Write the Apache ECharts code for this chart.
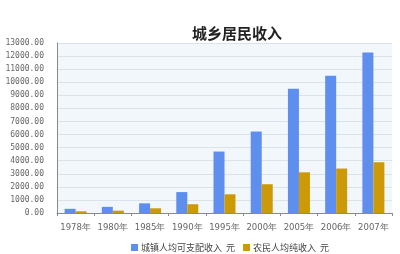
<!DOCTYPE html>
<html>
<head>
<meta charset="utf-8">
<script src="https://cdn.jsdelivr.net/npm/echarts@6/dist/echarts.min.js"></script>
<style>
  html, body { margin: 0; padding: 0; background: #fff; }
  #chart { width: 400px; height: 254px; }
</style>
</head>
<body>
<div id="chart"></div>
<script>
// 城乡居民收入 柱状图
var years = ["1978年", "1980年", "1985年", "1990年", "1995年", "2000年", "2005年", "2006年", "2007年"];
var cityIncome = [320, 470, 740, 1600, 4700, 6230, 9500, 10500, 12280];
var ruralIncome = [130, 180, 360, 670, 1430, 2200, 3110, 3400, 3880];
var seriesNames = ["城镇人均可支配收入  元", "农民人均纯收入  元"];

var myChart = echarts.init(document.getElementById("chart"));
myChart.setOption({
  animation: false,
  title: {
    text: "城乡居民收入",
    left: 232,
    top: 21,
    textAlign: "center",
    textStyle: {
      fontFamily: "Noto Sans CJK SC",
      fontSize: 15,
      fontWeight: "bold",
      color: "#222"
    }
  },
  legend: {
    data: seriesNames,
    left: 126,
    top: 238,
    itemWidth: 7,
    itemHeight: 7,
    itemGap: 8,
    icon: "rect",
    textStyle: {
      fontFamily: "Noto Sans CJK SC",
      fontSize: 9,
      color: "#444",
      padding: [0, 0, 0, -2]
    }
  },
  grid: {
    left: 57,
    right: 8,
    top: 43,
    bottom: 41,
    show: true,
    backgroundColor: "#f2f7fb",
    borderWidth: 0
  },
  xAxis: {
    type: "category",
    data: years,
    axisLine: { show: true, lineStyle: { color: "#8a8a8a" } },
    axisTick: { show: true, length: 3, lineStyle: { color: "#8a8a8a" } },
    axisLabel: {
      interval: 0,
      fontFamily: "DejaVu Sans",
      fontSize: 8.5,
      color: "#666",
      margin: 10
    }
  },
  yAxis: {
    type: "value",
    min: 0,
    max: 13000,
    interval: 1000,
    axisLine: { show: true, lineStyle: { color: "#8a8a8a" } },
    axisTick: { show: false },
    splitLine: { lineStyle: { color: "#dbe3ea" } },
    axisLabel: {
      fontFamily: "DejaVu Sans Mono",
      fontSize: 8,
      color: "#666",
      margin: 13,
      formatter: function (v) { return v.toFixed(2); }
    }
  },
  series: [
    {
      name: seriesNames[0],
      type: "bar",
      data: cityIncome,
      barWidth: 11,
      barGap: "0%",
      itemStyle: { color: "#5e8fee" }
    },
    {
      name: seriesNames[1],
      type: "bar",
      data: ruralIncome,
      barWidth: 11,
      itemStyle: { color: "#cc9a06" }
    }
  ]
});
</script>
</body>
</html>
